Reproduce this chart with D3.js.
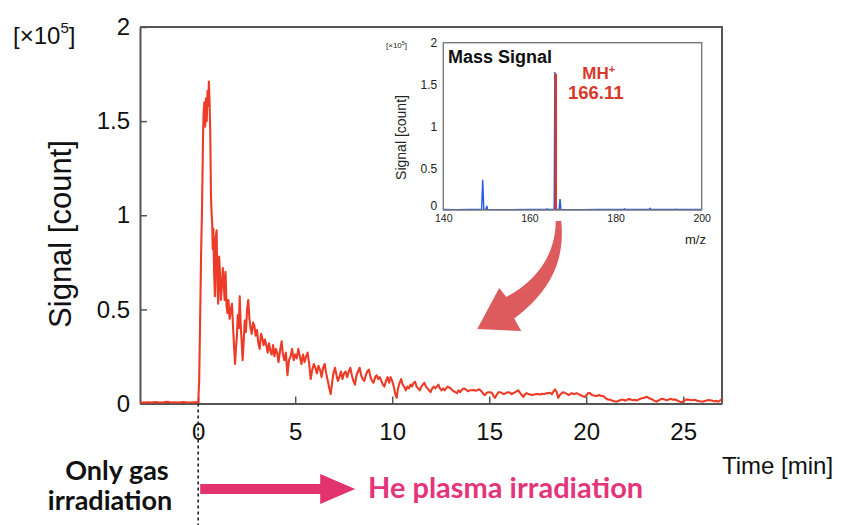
<!DOCTYPE html>
<html>
<head>
<meta charset="utf-8">
<script src="https://cdn.jsdelivr.net/npm/d3@7"></script>
<style>
  html, body { margin: 0; padding: 0; background: #fff; }
  svg { display: block; }
  .tick text { font-family: "Liberation Sans", Arial, Helvetica, sans-serif; }
</style>
</head>
<body>
<svg id="chart" width="841" height="525"></svg>
<script>
// Time course of the MH+ ion signal (×10^5 counts)
const timeMin = [
  -3.0,-2.8,-2.6,-2.4,-2.2,-2.0,-1.8,-1.6,-1.4,-1.2,-1.0,-0.8,-0.6,-0.4,-0.2,0.0,
  0.05,0.1,0.15,0.2,0.25,0.28,0.32,0.36,0.40,0.44,0.48,0.52,0.55,0.58,0.62,0.66,0.69,0.72,0.75,0.78,
  0.82,0.86,0.90,0.95,0.99,1.03,1.08,1.12,1.17,1.22,1.27,1.31,1.36,1.41,1.46,1.51,1.56,1.62,1.68,1.74,
  1.80,1.86,1.90,1.95,1.99,2.04,2.09,2.14,2.19,2.24,2.29,2.35,2.40,2.46,2.52,2.58,2.64,2.70,2.76,2.83,
  2.90,2.96,3.03,3.10,3.17,3.24,3.30,3.37,3.44,3.51,3.58,3.65,3.72,3.79,3.86,3.93,4.00,4.07,4.14,4.22,
  4.30,4.37,4.44,4.52,4.60,4.68,4.76,4.84,4.92,5.00,5.08,5.16,5.24,5.32,5.40,5.48,5.56,5.64,5.72,5.80,
  5.88,5.96,6.04,6.12,6.20,6.28,6.36,6.44,6.52,6.60,6.68,6.76,6.83,6.90,6.97,7.05,7.13,7.20,7.28,7.36,
  7.44,7.52,7.60,7.68,7.76,7.84,7.92,8.00,8.08,8.16,8.24,8.32,8.40,8.48,8.56,8.64,8.72,8.80,8.88,8.96,
  9.04,9.12,9.20,9.28,9.36,9.44,9.52,9.60,9.68,9.76,9.84,9.92,10.00,10.08,10.16,10.23,10.30,10.38,10.46,10.54,
  10.62,10.70,10.78,10.86,10.94,11.02,11.10,11.18,11.26,11.34,11.42,11.50,11.58,11.66,11.74,11.82,11.90,11.98,12.06,12.14,
  12.22,12.30,12.38,12.46,12.54,12.62,12.70,12.78,12.86,12.94,13.02,13.10,13.18,13.26,13.34,13.42,13.50,13.60,13.70,13.80,
  13.90,14.00,14.10,14.20,14.30,14.40,14.50,14.60,14.70,14.78,14.86,14.95,15.05,15.15,15.22,15.30,15.38,15.48,15.56,15.66,
  15.76,15.86,15.96,16.06,16.16,16.24,16.34,16.42,16.50,16.60,16.68,16.76,16.85,16.93,17.03,17.13,17.23,17.33,17.43,17.53,
  17.63,17.73,17.83,17.93,18.03,18.13,18.23,18.32,18.40,18.48,18.56,18.64,18.74,18.82,18.92,19.02,19.10,19.17,19.26,19.34,
  19.42,19.50,19.60,19.70,19.80,19.94,20.02,20.10,20.20,20.30,20.40,20.54,20.66,20.78,20.88,20.98,21.10,21.23,21.36,21.46,
  21.57,21.68,21.80,21.91,22.02,22.14,22.26,22.38,22.50,22.60,22.72,22.86,22.98,23.12,23.25,23.38,23.50,23.63,23.76,23.90,
  24.02,24.12,24.23,24.35,24.46,24.58,24.70,24.82,24.92,25.04,25.18,25.30,25.44,25.60,25.72,25.86,26.03,26.16,26.30,26.47,
  26.60,26.72,26.81,26.90,26.98
];
const signal = [
  0.006,0.005,0.007,0.005,0.008,0.005,0.006,0.009,0.005,0.007,0.005,0.008,0.006,0.005,0.007,0.006,
  0.12,0.45,0.80,1.05,1.42,1.55,1.60,1.47,1.62,1.50,1.66,1.58,1.71,1.62,1.45,1.10,1.01,0.96,0.82,0.93,
  0.70,0.57,0.88,0.92,0.62,0.53,0.78,0.70,0.55,0.62,0.72,0.66,0.55,0.70,0.52,0.48,0.55,0.45,0.50,0.53,
  0.40,0.28,0.21,0.30,0.35,0.47,0.40,0.57,0.42,0.33,0.23,0.34,0.44,0.38,0.50,0.55,0.45,0.40,0.37,0.43,
  0.41,0.36,0.39,0.32,0.29,0.37,0.35,0.31,0.34,0.31,0.27,0.32,0.28,0.26,0.31,0.25,0.29,0.27,0.22,0.28,
  0.33,0.26,0.23,0.27,0.15,0.23,0.25,0.29,0.23,0.26,0.24,0.29,0.25,0.21,0.26,0.22,0.25,0.27,0.21,0.13,
  0.18,0.21,0.19,0.16,0.20,0.18,0.14,0.19,0.21,0.16,0.12,0.08,0.05,0.11,0.16,0.19,0.15,0.12,0.14,0.17,
  0.13,0.16,0.17,0.14,0.17,0.19,0.15,0.12,0.10,0.15,0.17,0.19,0.15,0.13,0.12,0.15,0.17,0.18,0.14,0.12,
  0.11,0.14,0.15,0.13,0.14,0.12,0.10,0.09,0.12,0.14,0.11,0.14,0.12,0.09,0.05,0.03,0.08,0.11,0.13,0.10,
  0.09,0.07,0.09,0.08,0.10,0.09,0.11,0.115,0.09,0.08,0.07,0.09,0.10,0.11,0.09,0.08,0.07,0.06,0.08,0.09,
  0.08,0.09,0.10,0.08,0.07,0.08,0.07,0.08,0.09,0.085,0.08,0.07,0.065,0.06,0.055,0.07,0.06,0.075,0.08,0.075,
  0.065,0.07,0.07,0.072,0.068,0.072,0.075,0.065,0.05,0.045,0.055,0.06,0.06,0.055,0.04,0.03,0.045,0.06,0.06,0.055,
  0.05,0.055,0.06,0.058,0.05,0.055,0.06,0.065,0.07,0.055,0.045,0.035,0.05,0.055,0.05,0.047,0.045,0.048,0.05,0.05,
  0.048,0.052,0.05,0.053,0.055,0.057,0.05,0.065,0.075,0.06,0.03,0.045,0.055,0.06,0.055,0.05,0.045,0.05,0.055,0.05,
  0.052,0.055,0.05,0.045,0.04,0.035,0.045,0.055,0.055,0.045,0.042,0.04,0.045,0.04,0.04,0.03,0.022,0.02,0.015,0.012,
  0.01,0.015,0.02,0.02,0.015,0.022,0.023,0.018,0.02,0.016,0.022,0.028,0.03,0.036,0.028,0.023,0.015,0.01,0.018,0.025,
  0.022,0.018,0.02,0.025,0.02,0.022,0.016,0.01,0.006,0.014,0.022,0.02,0.017,0.02,0.015,0.012,0.01,0.014,0.018,0.016,
  0.012,0.014,0.01,0.016,0.022
];
const timeTicks = [0, 5, 10, 15, 20, 25];
const signalTicks = [0, 0.5, 1, 1.5, 2];
const signalTickLabels = ["0", "0.5", "1", "1.5", "2"];

// Mass spectrum shown in the inset (m/z vs ×10^5 counts)
const specMz = [
  140, 143, 146, 148.9, 149.15, 149.4, 149.9, 150.1, 150.3, 155, 160, 163.9, 164.1, 164.3,
  165.75, 165.9, 166.05, 166.9, 167.1, 167.3, 172, 176, 181.9, 182.1, 182.3, 187.8, 188.0, 188.2,
  193.8, 194.0, 194.2, 200
];
const specSignal = [
  0.006, 0.005, 0.006, 0.006, 0.36, 0.006, 0.006, 0.05, 0.006, 0.005, 0.006, 0.006, 0.014, 0.006,
  0.006, 1.65, 0.006, 0.006, 0.13, 0.006, 0.005, 0.006, 0.006, 0.014, 0.006, 0.006, 0.02, 0.006,
  0.006, 0.01, 0.006, 0.006
];
const mhPeakMz = 166.11;
const mhPeakSignal = 1.63;
const insetMzTicks = [140, 160, 180, 200];
const insetSignalTicks = [0, 0.5, 1, 1.5, 2];
const insetSignalTickLabels = ["0", "0.5", "1", "1.5", "2"];

const svg = d3.select("#chart");
const SANS = '"Liberation Sans", Arial, Helvetica, sans-serif';
const HUMANIST = 'Lato, "Open Sans", sans-serif';

// ---------- main time-course panel ----------
const x = d3.scaleLinear().domain([-3, 27]).range([140, 722]);
const y = d3.scaleLinear().domain([0, 2]).range([403.5, 27]);

const main = svg.append("g");

const xAxis = main.append("g")
  .attr("transform", `translate(0,${y(0)})`)
  .call(d3.axisBottom(x).tickValues(timeTicks).tickSize(-7).tickSizeOuter(0).tickPadding(19));
const yAxis = main.append("g")
  .attr("transform", `translate(${x(-3)},0)`)
  .call(d3.axisLeft(y).tickValues(signalTicks).tickFormat((d, i) => signalTickLabels[i])
    .tickSize(-7).tickSizeOuter(0).tickPadding(10));
[xAxis, yAxis].forEach(a => {
  a.selectAll(".domain").attr("stroke", "#555").attr("stroke-width", 2);
  a.selectAll(".tick line").attr("stroke", "#555").attr("stroke-width", 1.5);
  a.selectAll(".tick text").attr("font-size", 24).attr("fill", "#111");
});
// top and right edges of the frame
main.append("path")
  .attr("d", `M${x(-3)},${y(2)}H${x(27)}V${y(0)}`)
  .attr("fill", "none").attr("stroke", "#555").attr("stroke-width", 2);

// signal trace
const trace = timeMin.map((t, i) => [t, signal[i]]);
main.append("path")
  .datum(trace)
  .attr("fill", "none")
  .attr("stroke", "#ec3b26")
  .attr("stroke-width", 2.1)
  .attr("stroke-linejoin", "round")
  .attr("d", d3.line().x(d => x(d[0])).y(d => y(d[1])));

// axis titles
const mult = main.append("text")
  .attr("x", 13).attr("y", 44)
  .attr("font-family", SANS).attr("font-size", 24).attr("fill", "#111");
mult.append("tspan").text("[×10");
mult.append("tspan").attr("font-size", 15).attr("dy", -11).text("5");
mult.append("tspan").attr("dy", 11).text("]");

main.append("text")
  .attr("transform", "translate(71,234) rotate(-90)")
  .attr("text-anchor", "middle")
  .attr("font-family", SANS).attr("font-size", 31).attr("fill", "#111")
  .text("Signal [count]");

main.append("text")
  .attr("x", 722).attr("y", 474)
  .attr("font-family", SANS).attr("font-size", 24).attr("fill", "#111")
  .text("Time [min]");

// ---------- inset: mass spectrum ----------
const ix = d3.scaleLinear().domain([140, 200]).range([443.3, 701.7]);
const iy = d3.scaleLinear().domain([0, 2]).range([210, 42.7]);
const inset = svg.append("g");

inset.append("rect")
  .attr("x", ix(140)).attr("y", iy(2))
  .attr("width", ix(200) - ix(140)).attr("height", iy(0) - iy(2))
  .attr("fill", "#fff");

const ixAxis = inset.append("g")
  .attr("transform", `translate(0,${iy(0)})`)
  .call(d3.axisBottom(ix).tickValues(insetMzTicks).tickSize(0).tickPadding(4.5));
const iyAxis = inset.append("g")
  .attr("transform", `translate(${ix(140)},0)`)
  .call(d3.axisLeft(iy).tickValues(insetSignalTicks).tickFormat((d, i) => insetSignalTickLabels[i])
    .tickSize(0).tickPadding(6));
ixAxis.selectAll(".tick text").attr("font-size", 10.5).attr("fill", "#222");
iyAxis.selectAll(".tick text").attr("font-size", 12).attr("fill", "#222");
iyAxis.selectAll(".tick text").filter(d => d === 0).attr("dy", "-0.05em");
[ixAxis, iyAxis].forEach(a => a.select(".domain").remove());

// spectrum line
inset.append("path")
  .datum(specMz.map((m, i) => [m, specSignal[i]]))
  .attr("fill", "none")
  .attr("stroke", "#2459e6")
  .attr("stroke-width", 1.4)
  .attr("d", d3.line().x(d => ix(d[0])).y(d => iy(d[1])));

// highlighted MH+ peak
inset.append("line")
  .attr("x1", ix(mhPeakMz)).attr("x2", ix(mhPeakMz))
  .attr("y1", iy(0)).attr("y2", iy(mhPeakSignal))
  .attr("stroke", "#d63a2c").attr("stroke-width", 2.6);

inset.append("rect")
  .attr("x", ix(140)).attr("y", iy(2))
  .attr("width", ix(200) - ix(140)).attr("height", iy(0) - iy(2))
  .attr("fill", "none").attr("stroke", "#7a7a7a").attr("stroke-width", 1.4);

inset.append("text")
  .attr("x", 448).attr("y", 62.5)
  .attr("font-family", SANS).attr("font-weight", "bold").attr("font-size", 18).attr("fill", "#111")
  .text("Mass Signal");

const mhLabel = inset.append("text")
  .attr("x", ix(mhPeakMz) + 43).attr("y", 78.5)
  .attr("text-anchor", "middle")
  .attr("font-family", SANS).attr("font-weight", "bold").attr("font-size", 17).attr("fill", "#d63a2c");
mhLabel.append("tspan").text("MH");
mhLabel.append("tspan").attr("font-size", 11).attr("dy", -6).text("+");
inset.append("text")
  .attr("x", ix(mhPeakMz) + 40).attr("y", 99)
  .attr("text-anchor", "middle")
  .attr("font-family", SANS).attr("font-weight", "bold").attr("font-size", 18.5).attr("fill", "#d63a2c")
  .text(mhPeakMz.toFixed(2));

const imult = inset.append("text")
  .attr("x", 386).attr("y", 48)
  .attr("font-family", SANS).attr("font-size", 8).attr("fill", "#222");
imult.append("tspan").text("[×10");
imult.append("tspan").attr("font-size", 5.5).attr("dy", -3.5).text("5");
imult.append("tspan").attr("dy", 3.5).text("]");

inset.append("text")
  .attr("transform", "translate(406,137.5) rotate(-90)")
  .attr("text-anchor", "middle")
  .attr("font-family", SANS).attr("font-size", 14).attr("fill", "#222")
  .text("Signal [count]");

inset.append("text")
  .attr("x", 685).attr("y", 244)
  .attr("font-family", SANS).attr("font-size", 13).attr("fill", "#222")
  .text("m/z");

// curved call-out arrow from the MH+ peak down into the time course
const ax = ix(mhPeakMz);
svg.append("path")
  .attr("d", `M${ax},221 L${ax + 5.5},221 C${ax + 9},257 ${ax - 2},289 ${ax - 41.5},318.5
              L${ax - 34.5},331 L${ax - 78.5},329 L${ax - 56.5},288 L${ax - 49.5},297
              C${ax - 21.5},282 ${ax - 0.5},258 ${ax},221 Z`)
  .attr("fill", "#dd5b5c");

// ---------- phase annotations ----------
svg.append("line")
  .attr("x1", x(0)).attr("x2", x(0))
  .attr("y1", y(0)).attr("y2", 525)
  .attr("stroke", "#222").attr("stroke-width", 1.6).attr("stroke-dasharray", "3,3");

svg.append("text")
  .attr("x", 117).attr("y", 480)
  .attr("text-anchor", "middle")
  .attr("font-family", HUMANIST).attr("font-weight", "bold").attr("font-size", 27).attr("fill", "#111")
  .text("Only gas");
svg.append("text")
  .attr("x", 110).attr("y", 510)
  .attr("text-anchor", "middle")
  .attr("font-family", HUMANIST).attr("font-weight", "bold").attr("font-size", 27).attr("fill", "#111")
  .text("irradiation");

const ar0 = x(0) + 2, arY = 489;
svg.append("path")
  .attr("d", `M${ar0},${arY - 5} H${ar0 + 120} V${arY - 15} L${ar0 + 155},${arY} L${ar0 + 120},${arY + 15} V${arY + 5} H${ar0} Z`)
  .attr("fill", "#e2336f");

svg.append("text")
  .attr("x", 368).attr("y", 498)
  .attr("font-family", HUMANIST).attr("font-weight", "bold").attr("font-size", 29).attr("fill", "#e5357a")
  .text("He plasma irradiation");
</script>
</body>
</html>
